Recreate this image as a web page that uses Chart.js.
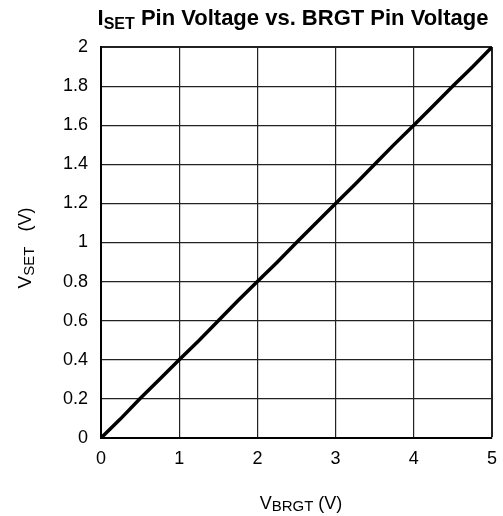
<!DOCTYPE html>
<html><head><meta charset="utf-8">
<script src="https://cdn.jsdelivr.net/npm/chart.js@4/dist/chart.umd.min.js"></script>
<style>html,body{margin:0;padding:0;background:#fff}</style>
</head><body>
<canvas id="c" width="503" height="516" style="width:503px;height:516px;display:block"></canvas>
<script>
const brgtVoltage = [0, 0.25, 0.5, 0.75, 1, 1.25, 1.5, 1.75, 2, 2.25, 2.5, 2.75, 3, 3.25, 3.5, 3.75, 4, 4.25, 4.5, 4.75, 5];
const setVoltage  = [0, 0.098, 0.202, 0.3, 0.4, 0.498, 0.6, 0.702, 0.8, 0.898, 1.0, 1.1, 1.2, 1.298, 1.4, 1.502, 1.6, 1.7, 1.8, 1.898, 2.0];
const xTickValues = [0, 1, 2, 3, 4, 5];
const yTickValues = [0, 0.2, 0.4, 0.6, 0.8, 1, 1.2, 1.4, 1.6, 1.8, 2];

const FONT = '"Liberation Sans", Arial, sans-serif';

const labelPlugin = {
  id: 'labels',
  afterDraw(chart) {
    const ctx = chart.ctx;
    ctx.save();
    ctx.fillStyle = '#000';
    ctx.textBaseline = 'alphabetic';
    function drawParts(parts, x, y, align) {
      let total = 0;
      parts.forEach(p => { ctx.font = p.font; total += ctx.measureText(p.t).width; });
      let cx = align === 'center' ? x - total / 2 : x;
      parts.forEach(p => {
        ctx.font = p.font;
        ctx.textAlign = 'left';
        ctx.fillText(p.t, cx, y + (p.dy || 0));
        cx += ctx.measureText(p.t).width;
      });
    }
    // Title
    drawParts([
      {t: 'I', font: 'bold 22px ' + FONT},
      {t: 'SET', font: 'bold 16px ' + FONT, dy: 4},
      {t: ' Pin Voltage vs. BRGT Pin Voltage', font: 'bold 22px ' + FONT}
    ], 293, 25, 'center');
    // X label
    drawParts([
      {t: 'V', font: '18px ' + FONT},
      {t: 'BRGT', font: '15px ' + FONT, dy: 2},
      {t: ' (V)', font: '18px ' + FONT}
    ], 301, 509, 'center');
    // Y label
    ctx.translate(31, 248);
    ctx.rotate(-Math.PI / 2);
    drawParts([
      {t: 'V', font: '19px ' + FONT},
      {t: 'SET', font: '15px ' + FONT, dy: 3},
      {t: '   (V)', font: '18px ' + FONT}
    ], 0, 0, 'center');
    ctx.restore();
  }
};

new Chart(document.getElementById('c'), {
  type: 'scatter',
  data: {
    datasets: [{
      data: brgtVoltage.map((x, i) => ({x: x, y: setVoltage[i]})),
      showLine: true,
      borderColor: '#000',
      borderWidth: 3.5,
      pointRadius: 0,
      tension: 0,
      fill: false
    }]
  },
  options: {
    responsive: false,
    animation: false,
    devicePixelRatio: 1,
    layout: {padding: {top: 47, right: 11, left: 0, bottom: 0}},
    plugins: {legend: {display: false}, title: {display: false}, tooltip: {enabled: false}},
    scales: {
      x: {
        type: 'linear', min: 0, max: 5,
        afterFit(s) { s.height = 78; s.paddingLeft = 0; s.paddingRight = 0; },
        afterBuildTicks(s) { s.ticks = xTickValues.map(v => ({value: v})); },
        ticks: {color: '#000', font: {family: FONT, size: 18}, padding: 10, callback: v => String(v), maxRotation: 0},
        grid: {color: '#222', lineWidth: c => (c.tick && c.tick.value === 5 ? 2 : 1.2), drawTicks: false},
        border: {display: true, color: '#000', width: 2}
      },
      y: {
        type: 'linear', min: 0, max: 2,
        afterFit(s) { s.width = 101; s.paddingTop = 0; s.paddingBottom = 0; },
        afterBuildTicks(s) { s.ticks = yTickValues.map(v => ({value: v})); },
        ticks: {color: '#000', font: {family: FONT, size: 18}, padding: 13, callback: v => String(Math.round(v * 10) / 10)},
        grid: {color: '#222', lineWidth: c => (c.tick && c.tick.value === 2 ? 2 : 1.2), drawTicks: false},
        border: {display: true, color: '#000', width: 2}
      }
    }
  },
  plugins: [labelPlugin]
});
</script>
</body></html>
